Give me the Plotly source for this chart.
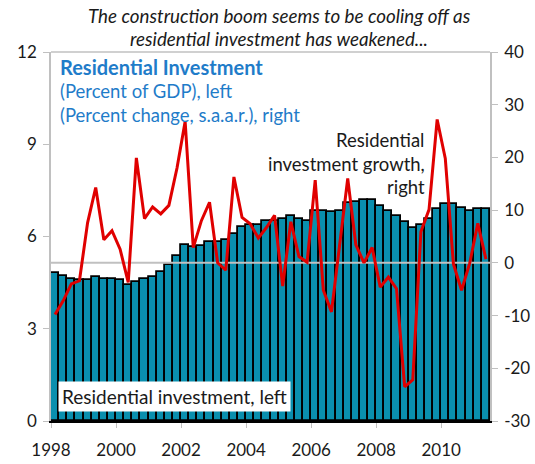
import plotly.graph_objects as go

years = ["1998", "2000", "2002", "2004", "2006", "2008", "2010"]
right_ticks = [-30, -20, -10, 0, 10, 20, 30, 40]
right_labels = ["-30", "-20", "-10", "0", "10", "20", "30", "40"]

# Residential investment, percent of GDP (quarterly, 1998Q1-2011Q2), left axis
ri_share = [4.80, 4.70, 4.63, 4.59,
            4.57, 4.68, 4.63, 4.63,
            4.57, 4.42, 4.52, 4.63,
            4.69, 4.86, 5.08, 5.37,
            5.71, 5.66, 5.70, 5.82,
            5.82, 5.89, 6.09, 6.32,
            6.37, 6.39, 6.49, 6.52,
            6.57, 6.66, 6.57, 6.49,
            6.84, 6.83, 6.79, 6.84,
            7.08, 7.11, 7.19, 7.19,
            7.00, 6.84, 6.67, 6.48,
            6.28, 6.37, 6.56, 6.89,
            7.05, 7.05, 6.94, 6.83,
            6.89, 6.89]

# Residential investment growth, percent change s.a.a.r., right axis
ri_growth = [-9.8, -7.2, -4.0, -3.4,
             7.6, 14.3, 4.4, 6.1,
             2.6, -3.7, 19.9, 8.4,
             10.6, 9.3, 10.9, 18.0,
             26.8, 2.9, 8.0, 11.5,
             0.0, -1.4, 16.3, 8.6,
             7.4, 4.7, 6.7, 9.0,
             -4.4, 7.8, 1.2, 0.1,
             15.7, -5.2, -9.3, 3.0,
             16.0, 3.4, 0.0, 2.9,
             -4.6, -2.7, -4.9, -23.5,
             -22.2, 5.9, 10.1, 27.2,
             19.8, -0.2, -5.2, -0.1,
             7.5, 0.7]

n = len(ri_share)
xq = [i + 0.5 for i in range(n)]
year_pos = [8 * i for i in range(len(years))]

W, H = 535, 464
L, R, T, B = 51, 490, 52, 421


def px(xp):
    return (xp - L) / (R - L)


def py(yp):
    return (B - yp) / (B - T)


FONT = "Lato"
BLUE = "#1f7cc9"
TXT = 18.5

fig = go.Figure()
fig.add_trace(go.Bar(x=xq, y=ri_share, width=1.0,
                     marker=dict(color="#0a8fae", line=dict(color="#000000", width=1.8)),
                     yaxis="y", hoverinfo="skip"))
fig.add_trace(go.Scatter(x=[0, n], y=[0, 0], mode="lines", yaxis="y2",
                         line=dict(color="#c0c0c0", width=2), hoverinfo="skip"))
fig.add_trace(go.Scatter(x=xq, y=ri_growth, mode="lines", yaxis="y2",
                         line=dict(color="#e00000", width=3), hoverinfo="skip"))

ann = []
ann.append(dict(text="<i>The construction boom seems to be cooling off as</i>",
                x=px(279), y=py(15), xref="paper", yref="paper", showarrow=False,
                font=dict(family=FONT, size=18.8, color="#1a1a1a"), xanchor="center", yanchor="middle"))
ann.append(dict(text="<i>residential investment has weakened...</i>",
                x=px(279), y=py(38), xref="paper", yref="paper", showarrow=False,
                font=dict(family=FONT, size=18.8, color="#1a1a1a"), xanchor="center", yanchor="middle"))
ann.append(dict(text="<b>Residential Investment</b>", x=px(58), y=py(67), xref="paper", yref="paper",
                showarrow=False, xanchor="left", yanchor="middle",
                font=dict(family=FONT, size=20, color=BLUE)))
ann.append(dict(text="(Percent of GDP), left", x=px(58), y=py(91), xref="paper", yref="paper",
                showarrow=False, xanchor="left", yanchor="middle",
                font=dict(family=FONT, size=TXT, color=BLUE)))
ann.append(dict(text="(Percent change, s.a.a.r.), right", x=px(58), y=py(115), xref="paper", yref="paper",
                showarrow=False, xanchor="left", yanchor="middle",
                font=dict(family=FONT, size=TXT, color=BLUE)))
for txt, yy in [("Residential", 140), ("investment growth,", 164), ("right", 187)]:
    ann.append(dict(text=txt, x=px(427), y=py(yy), xref="paper", yref="paper",
                    showarrow=False, xanchor="right", yanchor="middle",
                    font=dict(family=FONT, size=TXT, color="#1a1a1a")))
ann.append(dict(text="Residential investment, left", x=px(58), y=py(396), xref="paper", yref="paper",
                showarrow=False, xanchor="left", yanchor="middle", bgcolor="#ffffff",
                borderpad=3, font=dict(family=FONT, size=19, color="#1a1a1a")))

shapes = [dict(type="line", xref="paper", yref="paper", x0=0, x1=1, y0=1, y1=1,
               line=dict(color="#c0c0c0", width=1.5))]

tickfont = dict(family=FONT, size=17, color="#1a1a1a")
fig.update_layout(
    width=W, height=H,
    margin=dict(l=L, r=W - R, t=T, b=H - B, pad=0, autoexpand=False),
    paper_bgcolor="#ffffff", plot_bgcolor="#ffffff",
    showlegend=False, bargap=0,
    font=dict(family=FONT, size=17, color="#1a1a1a"),
    xaxis=dict(range=[0, n], tickvals=year_pos, ticktext=years, showgrid=False,
               zeroline=False, showline=True, linecolor="#000000", linewidth=1.5,
               ticks="outside", ticklen=5, tickcolor="#c0c0c0", tickwidth=1,
               ticklabelstandoff=8, automargin=False, tickfont=tickfont),
    yaxis=dict(range=[0, 12], tickvals=[0, 3, 6, 9, 12], showgrid=False, zeroline=False,
               showline=True, linecolor="#c0c0c0", linewidth=1.5,
               ticks="outside", ticklen=6, tickcolor="#c0c0c0",
               ticklabelstandoff=3, automargin=False, tickfont=tickfont),
    yaxis2=dict(range=[-30, 40], tickvals=right_ticks, ticktext=right_labels,
                overlaying="y", side="right", showgrid=False, zeroline=False,
                showline=True, linecolor="#c0c0c0", linewidth=1.5,
                ticks="outside", ticklen=6, tickcolor="#c0c0c0",
                ticklabelstandoff=3, automargin=False, tickfont=tickfont),
    annotations=ann, shapes=shapes,
)

fig.write_html("out.html", config={"displayModeBar": False},
               post_script="document.body.style.margin='0';document.body.style.overflow='hidden';")
